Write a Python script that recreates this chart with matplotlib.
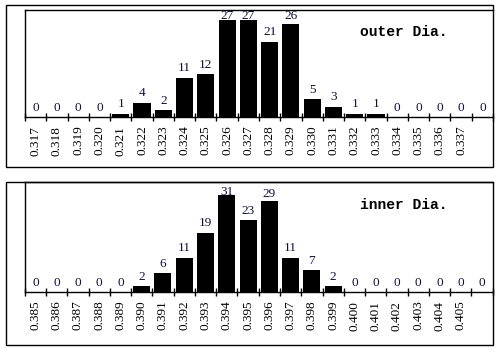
import numpy as np
import matplotlib
matplotlib.use("Agg")
import matplotlib.pyplot as plt
from matplotlib.patches import Rectangle

# data
outer_bins = ["0.317", "0.318", "0.319", "0.320", "0.321", "0.322", "0.323", "0.324",
              "0.325", "0.326", "0.327", "0.328", "0.329", "0.330", "0.331", "0.332",
              "0.333", "0.334", "0.335", "0.336", "0.337", ""]
outer_counts = [0, 0, 0, 0, 1, 4, 2, 11, 12, 27, 27, 21, 26, 5, 3, 1, 1, 0, 0, 0, 0, 0]

inner_bins = ["0.385", "0.386", "0.387", "0.388", "0.389", "0.390", "0.391", "0.392",
              "0.393", "0.394", "0.395", "0.396", "0.397", "0.398", "0.399", "0.400",
              "0.401", "0.402", "0.403", "0.404", "0.405", ""]
inner_counts = [0, 0, 0, 0, 0, 2, 6, 11, 19, 31, 23, 29, 11, 7, 2, 0, 0, 0, 0, 0, 0, 0]

W, H = 499, 352
fig = plt.figure(figsize=(W / 100, H / 100), dpi=100)


def px_box(x0, y0, x1, y1):
    return [x0 / W, 1 - y1 / H, (x1 - x0) / W, (y1 - y0) / H]


def panel(ax_px, frame_px, bins, counts, ymax, cap, title):
    fx0, fy0, fx1, fy1 = frame_px
    fig.add_artist(Rectangle((fx0 / W, 1 - fy1 / H), (fx1 - fx0) / W, (fy1 - fy0) / H,
                             transform=fig.transFigure, fill=False, lw=1.0,
                             edgecolor="black"))
    ax = fig.add_axes(px_box(*ax_px))
    x = np.arange(len(counts))
    ax.bar(x, counts, width=0.8, color="black")
    ax.set_xlim(-0.5, len(counts) - 0.5)
    ax.set_ylim(0, ymax)
    ax.set_yticks([])
    ax.spines["right"].set_visible(False)
    for s in ["top", "left", "bottom"]:
        ax.spines[s].set_linewidth(1.0)
    ax.set_xticks(x)
    ax.set_xticklabels(bins, rotation=90, family="Liberation Serif", fontsize=9.5)
    ax.tick_params(axis="x", which="major", length=0, pad=6)
    ax.set_xticks(np.arange(-0.5, len(counts)), minor=True)
    ax.tick_params(axis="x", which="minor", direction="inout", length=6, width=1.0)

    # px -> data units for the label gap
    ax_h_px = ax_px[3] - ax_px[1]
    gap = 6.5 * ymax / ax_h_px
    for xi, v in zip(x, counts):
        y = max(v, min(v + gap, cap))
        ax.text(xi, y, str(v), ha="center", va="baseline",
                family="Liberation Serif", fontsize=9.5, color="#10103a", clip_on=False)
    ax.text(0.716, 0.79, title, transform=ax.transAxes, ha="left", va="center",
            family="Liberation Mono", fontweight="bold", fontsize=10.5)
    return ax


panel((25, 9.7, 493, 117.3), (6, 5, 493, 167), outer_bins, outer_counts, 30, 27.4, "outer Dia.")
panel((24.7, 182.3, 492.7, 292.3), (6, 182.3, 493, 345), inner_bins, inner_counts, 35, 30.4, "inner Dia.")

fig.savefig("out.png", dpi=100)
